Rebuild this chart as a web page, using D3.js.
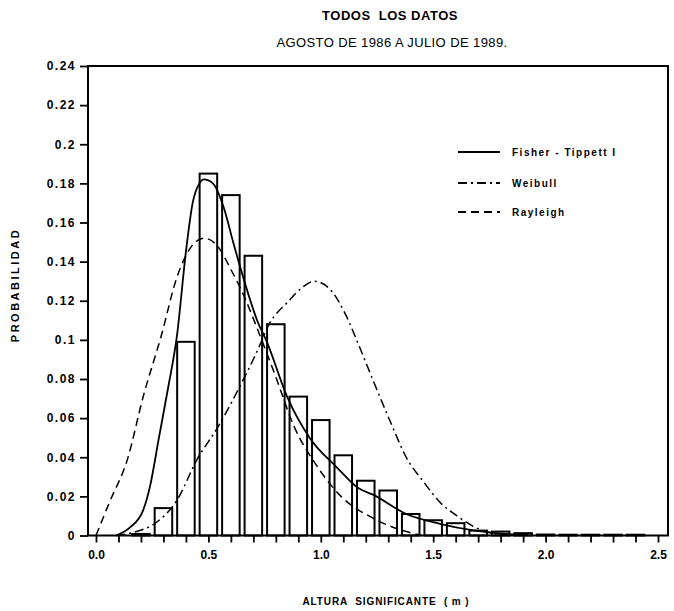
<!DOCTYPE html>
<html>
<head>
<meta charset="utf-8">
<script src="https://cdn.jsdelivr.net/npm/d3@7"></script>
<style>
  body { margin: 0; background: #fff; }
  svg { display: block; }
  text { font-family: "Liberation Sans", Arial, sans-serif; fill: #000; }
</style>
</head>
<body>
<svg id="chart" width="674" height="611"></svg>
<script>
// ---- data ----
const binCenters = [0.2, 0.3, 0.4, 0.5, 0.6, 0.7, 0.8, 0.9, 1.0, 1.1, 1.2, 1.3, 1.4, 1.5, 1.6, 1.7, 1.8, 1.9, 2.0, 2.1, 2.2, 2.3, 2.4];
const binProb    = [0.0008, 0.014, 0.099, 0.185, 0.174, 0.143, 0.108, 0.071, 0.059, 0.041, 0.028, 0.023, 0.011, 0.0078, 0.0063, 0.0025, 0.002, 0.0012, 0.0005, 0.0004, 0.0004, 0.0004, 0.0004];

const fisherX = [0.09, 0.15, 0.21, 0.24, 0.28, 0.32, 0.36, 0.40, 0.43, 0.46, 0.48, 0.52, 0.57, 0.61, 0.66, 0.72, 0.76, 0.85, 0.95, 1.07, 1.17, 1.23, 1.38, 1.53, 1.68, 1.80, 1.92];
const fisherY = [0, 0.004, 0.013, 0.025, 0.050, 0.075, 0.102, 0.145, 0.170, 0.180, 0.182, 0.180, 0.167, 0.150, 0.130, 0.109, 0.099, 0.071, 0.050, 0.035, 0.024, 0.021, 0.011, 0.006, 0.0026, 0.001, 0.0003];

const weibullX = [0.09, 0.18, 0.26, 0.36, 0.45, 0.54, 0.63, 0.72, 0.77, 0.85, 0.92, 0.97, 1.04, 1.11, 1.17, 1.23, 1.31, 1.38, 1.46, 1.53, 1.61, 1.68, 1.75, 1.83];
const weibullY = [0, 0.002, 0.006, 0.018, 0.039, 0.055, 0.074, 0.095, 0.108, 0.119, 0.127, 0.130, 0.126, 0.113, 0.097, 0.080, 0.058, 0.040, 0.027, 0.017, 0.0097, 0.0046, 0.0015, 0.0003];

const rayleighX = [0.0, 0.06, 0.14, 0.21, 0.29, 0.36, 0.42, 0.48, 0.54, 0.60, 0.66, 0.73, 0.80, 0.88, 0.98, 1.09, 1.23, 1.38, 1.45];
const rayleighY = [0, 0.017, 0.039, 0.071, 0.102, 0.132, 0.147, 0.152, 0.148, 0.136, 0.122, 0.102, 0.081, 0.056, 0.036, 0.020, 0.009, 0.002, 0.0];

const xTickValues = [0, 0.5, 1.0, 1.5, 2.0, 2.5];
const xTickLabels = ["0.0", "0.5", "1.0", "1.5", "2.0", "2.5"];
const yTickValues = [0, 0.02, 0.04, 0.06, 0.08, 0.1, 0.12, 0.14, 0.16, 0.18, 0.2, 0.22, 0.24];
const yTickLabels = ["0", "0.02", "0.04", "0.06", "0.08", "0.1", "0.12", "0.14", "0.16", "0.18", "0.2", "0.22", "0.24"];

const seriesNames = ["Fisher - Tippett I", "Weibull", "Rayleigh"];
const titleText = "TODOS  LOS DATOS";
const subtitleText = "AGOSTO DE 1986 A JULIO DE 1989.";
const xTitle = "ALTURA  SIGNIFICANTE  ( m )";
const yTitle = "PROBABILIDAD";

// ---- layout ----
const frame = { left: 88, right: 668, top: 66, bottom: 535.5 };
const svg = d3.select("#chart");
const x = d3.scaleLinear().domain([0, 2.5]).range([96, 658]);
const y = d3.scaleLinear().domain([0, 0.24]).range([frame.bottom, frame.top]);
const halfBar = 0.039;

// bars
svg.append("g").selectAll("rect").data(binCenters.map((c, i) => ({ c, p: binProb[i] })))
  .join("rect")
  .attr("x", d => x(d.c - halfBar))
  .attr("width", d => x(d.c + halfBar) - x(d.c - halfBar))
  .attr("y", d => y(d.p))
  .attr("height", d => y(0) - y(d.p))
  .attr("fill", "#fff").attr("stroke", "#000").attr("stroke-width", 2);

// curves
const line = d3.line().x(d => x(d[0])).y(d => y(d[1])).curve(d3.curveMonotoneX);
const curves = [
  { xs: fisherX, ys: fisherY, dash: null, w: 1.8 },
  { xs: weibullX, ys: weibullY, dash: "9,4,2,4", w: 1.5 },
  { xs: rayleighX, ys: rayleighY, dash: "8,5", w: 1.5 }
];
curves.forEach(cv => {
  svg.append("path")
    .datum(cv.xs.map((v, i) => [v, cv.ys[i]]))
    .attr("d", line)
    .attr("fill", "none").attr("stroke", "#000")
    .attr("stroke-width", cv.w)
    .attr("stroke-dasharray", cv.dash);
});

// frame
svg.append("rect")
  .attr("x", frame.left).attr("y", frame.top)
  .attr("width", frame.right - frame.left).attr("height", frame.bottom - frame.top)
  .attr("fill", "none").attr("stroke", "#000").attr("stroke-width", 2);

// x axis (ticks every 0.1, labels at 0.5)
const xAxis = d3.axisBottom(x)
  .tickValues(d3.range(0, 26).map(i => i / 10))
  .tickSize(7).tickPadding(8)
  .tickFormat(d => {
    const k = xTickValues.findIndex(v => Math.abs(v - d) < 1e-9);
    return k >= 0 ? xTickLabels[k] : "";
  });
const gx = svg.append("g").attr("transform", `translate(0,${frame.bottom})`).call(xAxis);
gx.select(".domain").remove();
gx.selectAll(".tick line").attr("stroke", "#000").attr("stroke-width", 1.8);
gx.selectAll(".tick text").attr("font-size", 12).attr("font-weight", "bold")
  .style("font-family", "'Liberation Sans', Arial, sans-serif");

// y axis
const yAxis = d3.axisLeft(y)
  .tickValues(yTickValues)
  .tickSize(8).tickPadding(4)
  .tickFormat((d, i) => yTickLabels[i]);
const gy = svg.append("g").attr("transform", `translate(${frame.left},0)`).call(yAxis);
gy.select(".domain").remove();
gy.selectAll(".tick line").attr("stroke", "#000").attr("stroke-width", 1.8);
gy.selectAll(".tick text").attr("font-size", 12).attr("font-weight", "bold")
  .attr("letter-spacing", 1.5)
  .style("font-family", "'Liberation Sans', Arial, sans-serif");

// titles
svg.append("text").attr("x", 390).attr("y", 20).attr("text-anchor", "middle")
  .attr("font-size", 13).attr("font-weight", "bold").attr("letter-spacing", 0.5)
  .style("white-space", "pre").text(titleText);
svg.append("text").attr("x", 392).attr("y", 47).attr("text-anchor", "middle")
  .attr("font-size", 13).attr("letter-spacing", 0.4).style("white-space", "pre").text(subtitleText);
svg.append("text").attr("x", 386).attr("y", 605).attr("text-anchor", "middle")
  .attr("font-size", 10).attr("font-weight", "bold").attr("letter-spacing", 0.9)
  .style("white-space", "pre").text(xTitle);
svg.append("text").attr("transform", "translate(19,285) rotate(-90)").attr("text-anchor", "middle")
  .attr("font-size", 11).attr("font-weight", "bold").attr("letter-spacing", 2.5)
  .text(yTitle);

// legend
const legendY = [152, 183, 212];
const legendDash = [null, "9,4,2,4", "8,5"];
seriesNames.forEach((name, i) => {
  svg.append("line").attr("x1", 458).attr("x2", 500).attr("y1", legendY[i]).attr("y2", legendY[i])
    .attr("stroke", "#000").attr("stroke-width", 1.8).attr("stroke-dasharray", legendDash[i]);
  svg.append("text").attr("x", 512).attr("y", legendY[i] + 4)
    .attr("font-size", 10).attr("font-weight", "bold").attr("letter-spacing", 1.5)
    .text(name);
});
</script>
</body>
</html>
